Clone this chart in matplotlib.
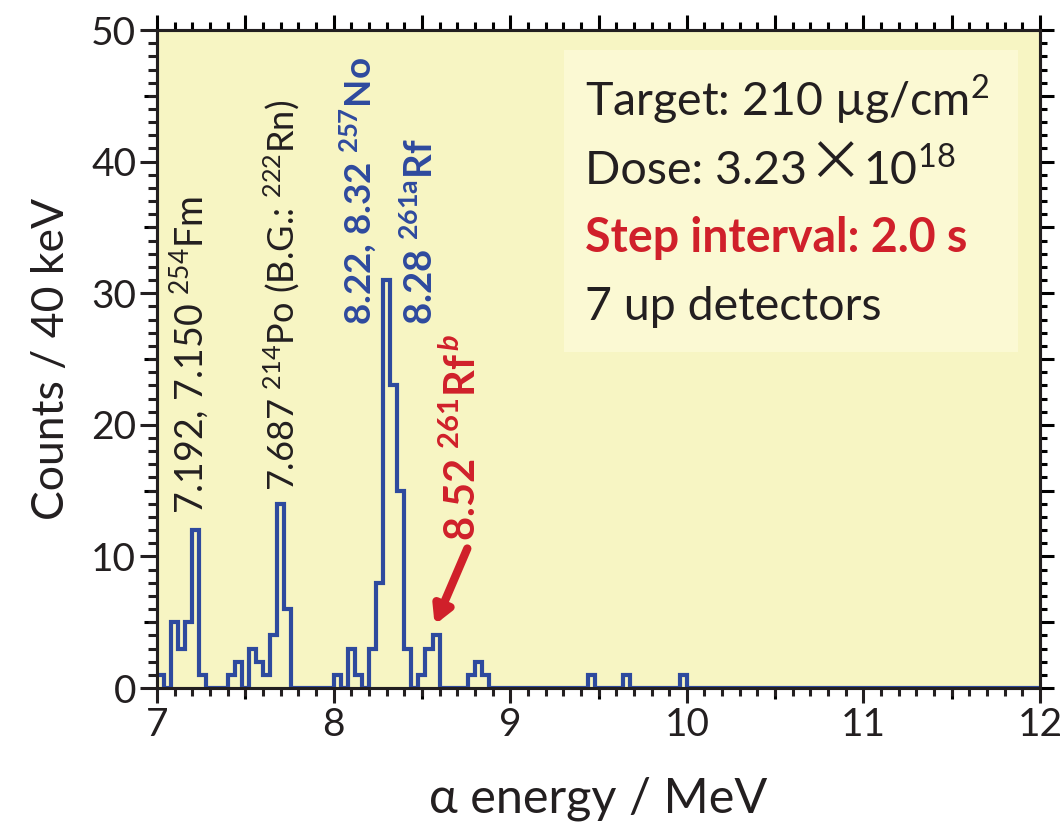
import numpy as np
import matplotlib
matplotlib.use("Agg")
import matplotlib.pyplot as plt
from matplotlib.ticker import MultipleLocator, NullLocator
from matplotlib.patches import Rectangle

plt.rcParams["font.family"] = ["Lato", "DejaVu Sans"]
plt.rcParams["mathtext.fontset"] = "custom"
plt.rcParams["mathtext.rm"] = "Lato"
plt.rcParams["mathtext.bf"] = "Lato:bold"
plt.rcParams["mathtext.it"] = "Lato:italic:bold"

# alpha spectrum, 40 keV bins starting at 7.00 MeV
e_start = 7.0
bin_width = 0.04
counts = [
    1, 0, 5, 3, 5, 12, 1, 0, 0, 0,
    1, 2, 0, 3, 2, 1, 4, 14, 6, 0,
    0, 0, 0, 0, 0, 1, 0, 3, 1, 0,
    3, 8, 31, 23, 15, 3, 0, 1, 3, 4,
    0, 0, 0, 0, 1, 2, 1, 0, 0, 0,
    0, 0, 0, 0, 0, 0, 0, 0, 0, 0,
    0, 1, 0, 0, 0, 0, 1, 0, 0, 0,
    0, 0, 0, 0, 1, 0, 0, 0, 0, 0,
    0, 0, 0, 0, 0, 0, 0, 0, 0, 0,
    0, 0, 0, 0, 0, 0, 0, 0, 0, 0,
    0, 0, 0, 0, 0, 0, 0, 0, 0, 0,
    0, 0, 0, 0, 0, 0, 0, 0, 0, 0,
    0, 0, 0, 0, 0,
]

# peak labels: (text, energy, count at text foot, colour, size, weight)
peak_labels = [
    ("7.192, 7.150 $^{254}$Fm", 7.176, 13.2, "#231F20", 27, "normal"),
    ("7.687 $^{214}$Po (B.G.: $^{222}$Rn)", 7.708, 15.0, "#231F20", 26, "normal"),
    (r"8.22, 8.32 $^{\mathbf{257}}$No", 8.138, 27.6, "#2E4A9E", 26.5, "bold"),
    (r"8.28 $^{\mathbf{261a}}$Rf", 8.49, 27.6, "#2E4A9E", 27.5, "bold"),
    (r"8.52 $^{\mathbf{261}}$Rf$^{\,\mathit{b}}$", 8.727, 11.2, "#D0202A", 30, "bold"),
]

info_lines = [
    ("Target: 210 µg/cm$^{2}$", "#231F20", "normal"),
    ("Dose: 3.23", "#231F20", "normal"),
    ("Step interval: 2.0 s", "#D0202A", "bold"),
    ("7 up detectors", "#231F20", "normal"),
]
dose_exp = "10$^{18}$"

edges = e_start + bin_width * np.arange(len(counts) + 1)

fig = plt.figure(figsize=(10.63, 8.25), dpi=100)
ax = fig.add_axes([0.1477, 0.166, 0.8307, 0.7976])
ax.set_facecolor("#F7F5C3")

ax.stairs(counts, edges, baseline=None, color="#2E4A9E", linewidth=3.0, zorder=2)

ax.set_xlim(7, 12)
ax.set_ylim(0, 50)

for s in ax.spines.values():
    s.set_linewidth(2.2)
    s.set_color("#231F20")

# main ticks: bottom and left, with labels
ax.xaxis.set_major_locator(MultipleLocator(1))
ax.xaxis.set_minor_locator(MultipleLocator(0.1))
ax.yaxis.set_major_locator(MultipleLocator(10))
ax.yaxis.set_minor_locator(MultipleLocator(1))
ax.tick_params(which="both", direction="out", width=2.2, color="#231F20",
               labelcolor="#231F20", top=False, right=False)
ax.tick_params(axis="x", which="major", length=11, labelsize=28, pad=3)
ax.tick_params(axis="x", which="minor", length=5.8)
ax.tick_params(axis="y", which="major", length=12, labelsize=28, pad=3)
ax.tick_params(axis="y", which="minor", length=6.5)

# half-step ticks on bottom and left
mid_x = ax.secondary_xaxis("bottom")
mid_x.xaxis.set_major_locator(MultipleLocator(1, offset=0.5))
mid_x.xaxis.set_minor_locator(NullLocator())
mid_x.tick_params(direction="out", length=8, width=2.2, labelbottom=False)
mid_y = ax.secondary_yaxis("left")
mid_y.yaxis.set_major_locator(MultipleLocator(10, offset=5))
mid_y.yaxis.set_minor_locator(NullLocator())
mid_y.tick_params(direction="out", length=9.5, width=2.2, labelleft=False)

# top and right frame ticks
top_x = ax.secondary_xaxis("top")
top_x.xaxis.set_major_locator(MultipleLocator(0.5))
top_x.xaxis.set_minor_locator(MultipleLocator(0.1))
top_x.tick_params(which="major", direction="out", length=11, width=2.2, labeltop=False)
top_x.tick_params(which="minor", direction="out", length=5.8, width=2.2)
right_y = ax.secondary_yaxis("right")
right_y.yaxis.set_major_locator(MultipleLocator(5))
right_y.yaxis.set_minor_locator(MultipleLocator(1))
right_y.tick_params(which="major", direction="out", length=10, width=2.2, labelright=False)
right_y.tick_params(which="minor", direction="out", length=5, width=2.2)
for sec in (mid_x, mid_y, top_x, right_y):
    for s in sec.spines.values():
        s.set_linewidth(2.2)
        s.set_color("#231F20")

ax.set_xlabel("α energy / MeV", fontsize=35, labelpad=24, color="#231F20",
              fontfamily=["Lato", "DejaVu Serif"])
ax.set_ylabel("Counts / 40 keV", fontsize=32, labelpad=14, color="#231F20")

for text, x, y, col, size, weight in peak_labels:
    ax.text(x, y, text, rotation=90, ha="center", va="bottom",
            color=col, fontsize=size, fontweight=weight)

# arrow to the 8.52 MeV bin
ax.annotate("", xy=(8.572, 4.8), xytext=(8.757, 10.6),
            arrowprops=dict(arrowstyle="-|>,head_length=1.0,head_width=0.55",
                            color="#D0202A", lw=6, shrinkA=0, shrinkB=0))

# info box
ax.add_patch(Rectangle((0.461, 0.511), 0.514, 0.459, transform=ax.transAxes,
                       facecolor="#FBF9D3", edgecolor="none", zorder=1))
info_texts = []
for i, (text, col, weight) in enumerate(info_lines):
    t = ax.text(0.485, 0.869 - i * 0.103, text, transform=ax.transAxes,
                ha="left", va="baseline", fontsize=33.5, color=col, fontweight=weight)
    info_texts.append(t)

# large multiplication cross and exponent after the dose value
cross = ax.annotate("×", xy=(1.0, 0.0), xycoords=info_texts[1],
                    xytext=(0, -1), textcoords="offset points",
                    ha="left", va="bottom", fontsize=40, color="#231F20",
                    fontfamily=["Noto Sans CJK JP", "DejaVu Sans"])
ax.annotate(dose_exp, xy=(1.0, 0.0), xycoords=cross,
            xytext=(0, 0), textcoords="offset points",
            ha="left", va="bottom", fontsize=33.5, color="#231F20")

fig.savefig("out.png", dpi=100)
